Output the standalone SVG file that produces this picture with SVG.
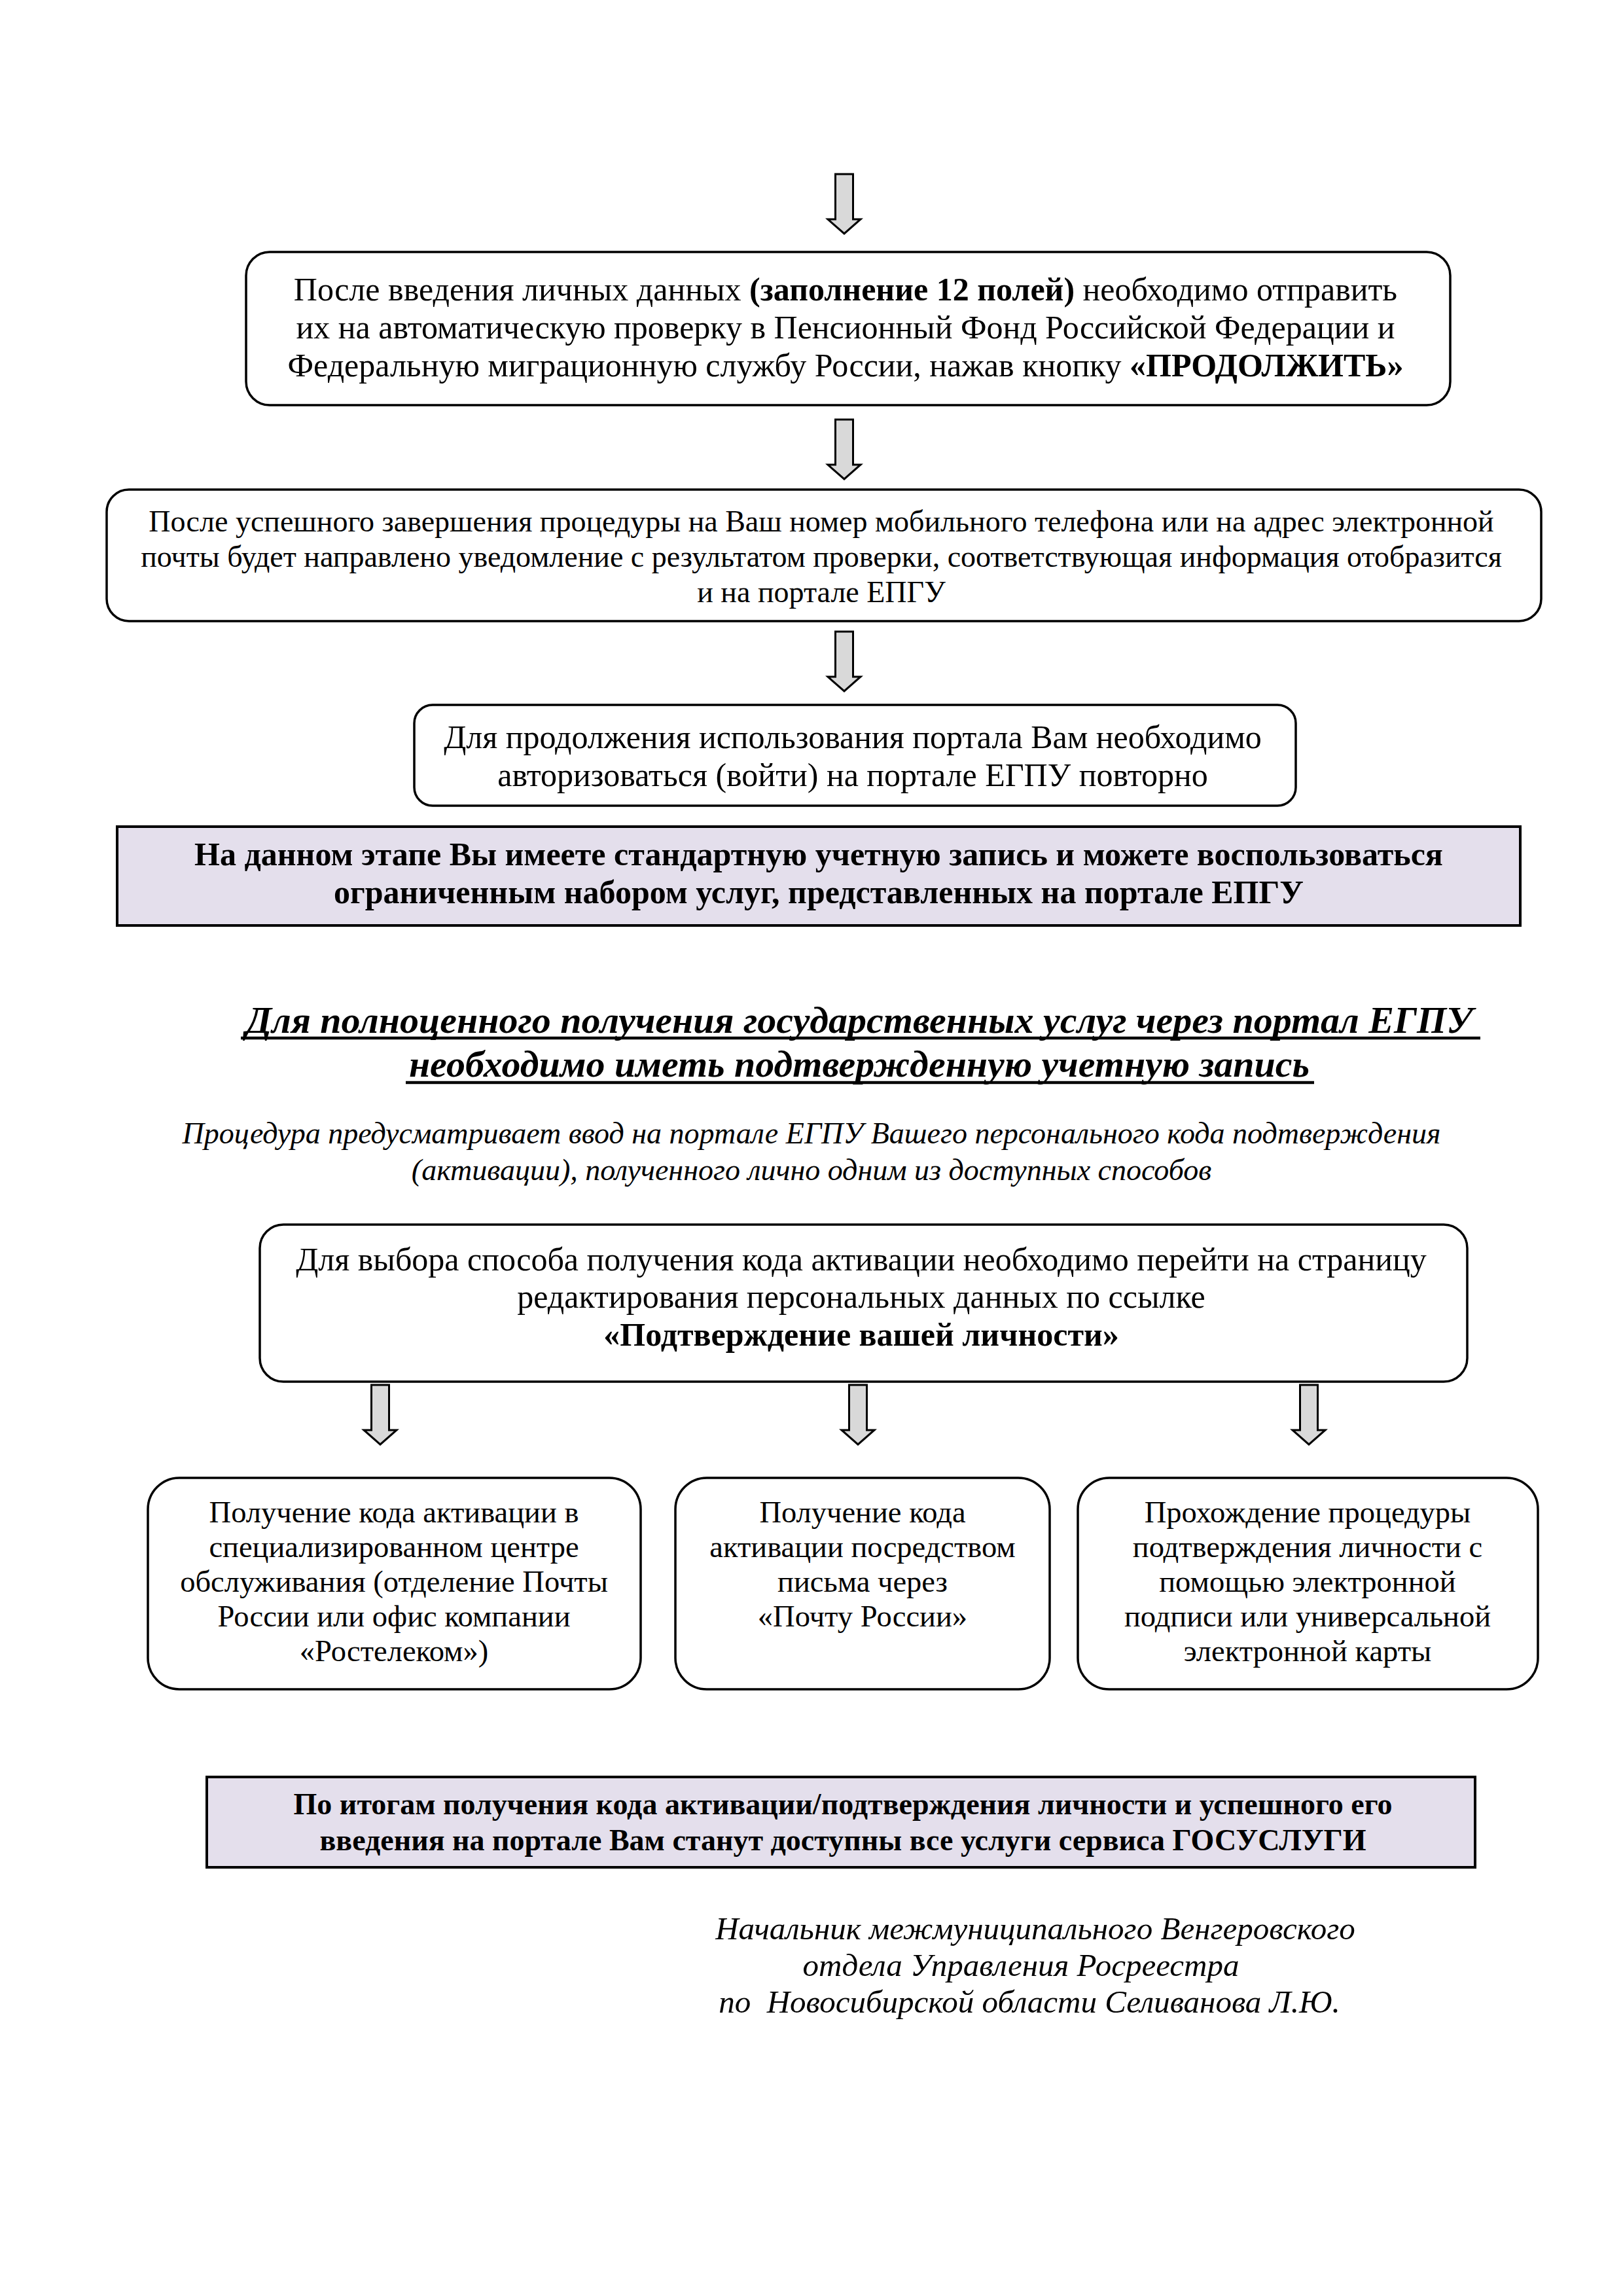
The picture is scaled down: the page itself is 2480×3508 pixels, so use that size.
<svg xmlns="http://www.w3.org/2000/svg" xmlns:xlink="http://www.w3.org/1999/xlink" width="2480" height="3508" viewBox="0 0 2480 3508">
<style>
.box{fill:#ffffff;stroke:#000;stroke-width:3.5}
.pbox{fill:#E4DFEC;stroke:#000;stroke-width:4}
.t{font-family:"Liberation Serif","Times New Roman",serif;fill:#000;text-anchor:middle}
.f50{font-size:50px}
.f46{font-size:46px}
.f48{font-size:46.5px}
.f49{font-size:49px}
.b{font-weight:bold}
.i{font-style:italic}
.arrow{fill:#D9D9D9;stroke:#000;stroke-width:3;stroke-linejoin:miter}
.ul{stroke:#000;stroke-width:4.5}
</style>
<defs>
<path id="arr" d="M-13.5,0 H13.5 V69 H25 L0,91 L-25,69 H-13.5 Z"/>
</defs>
<rect width="2480" height="3508" fill="#fff"/>

<g id="connectors">
<use xlink:href="#arr" href="#arr" class="arrow" transform="translate(1290,266)"/>
<use xlink:href="#arr" href="#arr" class="arrow" transform="translate(1290,641)"/>
<use xlink:href="#arr" href="#arr" class="arrow" transform="translate(1290,965)"/>
<use xlink:href="#arr" href="#arr" class="arrow" transform="translate(581,2116)"/>
<use xlink:href="#arr" href="#arr" class="arrow" transform="translate(1311,2116)"/>
<use xlink:href="#arr" href="#arr" class="arrow" transform="translate(2000,2116)"/>
</g>

<g id="node1">
<rect class="box" x="376" y="385" width="1840" height="234" rx="36"/>
<text class="t f50" x="1292" y="459">После введения личных данных <tspan class="b">(заполнение 12 полей)</tspan> необходимо отправить</text>
<text class="t f50" x="1292" y="517">их на автоматическую проверку в Пенсионный Фонд Российской Федерации и</text>
<text class="t f50" x="1292" y="575">Федеральную миграционную службу России, нажав кнопку <tspan class="b">«ПРОДОЛЖИТЬ»</tspan></text>
</g>

<g id="node2">
<rect class="box" x="163" y="748" width="2192" height="201" rx="34"/>
<text class="t f46" x="1255" y="812">После успешного завершения процедуры на Ваш номер мобильного телефона или на адрес электронной</text>
<text class="t f46" x="1255" y="866">почты будет направлено уведомление с результатом проверки, соответствующая информация отобразится</text>
<text class="t f46" x="1255" y="920">и на портале ЕПГУ</text>
</g>

<g id="node3">
<rect class="box" x="633" y="1077" width="1347" height="154" rx="28"/>
<text class="t f50" x="1303" y="1143">Для продолжения использования портала Вам необходимо</text>
<text class="t f50" x="1303" y="1201">авторизоваться (войти) на портале ЕГПУ повторно</text>
</g>

<g id="node4">
<rect class="pbox" x="179" y="1263" width="2144" height="151"/>
<text class="t f50 b" x="1251" y="1322">На данном этапе Вы имеете стандартную учетную запись и можете воспользоваться</text>
<text class="t f50 b" x="1251" y="1380">ограниченным набором услуг, представленных на портале ЕПГУ</text>
</g>

<g id="heading">
<text class="t b i" font-size="58" x="1313" y="1578">Для полноценного получения государственных услуг через портал ЕГПУ</text>
<line class="ul" x1="368" y1="1586" x2="2262" y2="1586"/>
<text class="t b i" font-size="58" x="1313" y="1645">необходимо иметь подтвержденную учетную запись</text>
<line class="ul" x1="620" y1="1654" x2="2008" y2="1654"/>
</g>

<g id="subtitle">
<text class="t i f46" x="1240" y="1747">Процедура предусматривает ввод на портале ЕГПУ Вашего персонального кода подтверждения</text>
<text class="t i f46" x="1240" y="1803">(активации), полученного лично одним из доступных способов</text>
</g>

<g id="node5">
<rect class="box" x="397" y="1871" width="1845" height="240" rx="36"/>
<text class="t f50" x="1316" y="1941">Для выбора способа получения кода активации необходимо перейти на страницу</text>
<text class="t f50" x="1316" y="1998">редактирования персональных данных по ссылке</text>
<text class="t f50 b" x="1316" y="2056">«Подтверждение вашей личности»</text>
</g>

<g id="node6">
<rect class="box" x="226" y="2258" width="753" height="323" rx="48"/>
<text class="t f48" x="602" y="2326">Получение кода активации в</text>
<text class="t f48" x="602" y="2379">специализированном центре</text>
<text class="t f48" x="602" y="2432">обслуживания (отделение Почты</text>
<text class="t f48" x="602" y="2485">России или офис компании</text>
<text class="t f48" x="602" y="2538">«Ростелеком»)</text>
</g>

<g id="node7">
<rect class="box" x="1032" y="2258" width="572" height="323" rx="48"/>
<text class="t f48" x="1318" y="2326">Получение кода</text>
<text class="t f48" x="1318" y="2379">активации посредством</text>
<text class="t f48" x="1318" y="2432">письма через</text>
<text class="t f48" x="1318" y="2485">«Почту России»</text>
</g>

<g id="node8">
<rect class="box" x="1647" y="2258" width="703" height="323" rx="48"/>
<text class="t f48" x="1998" y="2326">Прохождение процедуры</text>
<text class="t f48" x="1998" y="2379">подтверждения личности с</text>
<text class="t f48" x="1998" y="2432">помощью электронной</text>
<text class="t f48" x="1998" y="2485">подписи или универсальной</text>
<text class="t f48" x="1998" y="2538">электронной карты</text>
</g>

<g id="node9">
<rect class="pbox" x="316" y="2715" width="1938" height="138"/>
<text class="t f46 b" x="1288" y="2772">По итогам получения кода активации/подтверждения личности и успешного его</text>
<text class="t f46 b" x="1288" y="2827">введения на портале Вам станут доступны все услуги сервиса ГОСУСЛУГИ</text>
</g>

<g id="signature">
<text class="t i f49" x="1582" y="2963">Начальник межмуниципального Венгеровского</text>
<text class="t i f49" x="1560" y="3019">отдела Управления Росреестра</text>
<text class="t i f49" x="1573" y="3075" xml:space="preserve">по  Новосибирской области Селиванова Л.Ю.</text>
</g>
</svg>
